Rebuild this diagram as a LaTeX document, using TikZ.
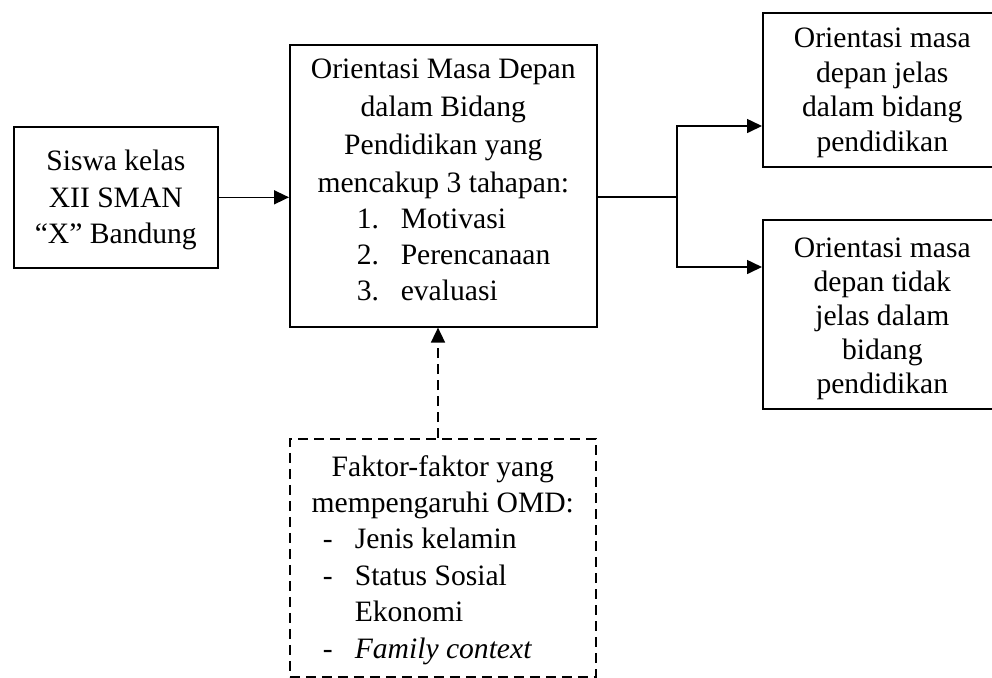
\documentclass[tikz,border=0pt]{standalone}
\usepackage{fontspec}
\setmainfont{Liberation Serif}
\usetikzlibrary{arrows.meta}
\begin{document}
\begin{tikzpicture}[x=0.5pt,y=-0.5pt,
  box/.style={draw, line width=0.8pt, inner sep=0pt, anchor=north west},
  dbox/.style={box, dash pattern=on 5pt off 3pt},
  txt/.style={inner sep=0pt, align=center},
  arr/.style={line width=0.8pt, -{Triangle[length=7.5pt,width=7pt]}},
  ]
\useasboundingbox (0,0) rectangle (992,677);
\clip (0,0) rectangle (992,677);
% boxes
\node[box, minimum width=102pt, minimum height=70.5pt] (siswa) at (13,126) {};
\node[box, minimum width=153.5pt, minimum height=141pt] (omd) at (289,44) {};
\node[box, minimum width=119.5pt, minimum height=77pt] (tr) at (762,12) {};
\node[box, minimum width=119.5pt, minimum height=94.5pt] (br) at (762,219) {};
\node[dbox, minimum width=153pt, minimum height=119pt] (fak) at (289,438) {};
% texts
\node[txt, font=\fontsize{14.8}{18.25}\selectfont] (siswaT) at ([yshift=-1.5pt]siswa.center)
  {Siswa kelas\\XII SMAN\\“X” Bandung};
\node[txt, font=\fontsize{14.8}{18}\selectfont] (omdT) at ([yshift=3.1pt]omd.center)
  {Orientasi Masa Depan\\[1pt]dalam Bidang\\[1pt]Pendidikan yang\\[1pt]mencakup 3 tahapan:\\
   \makebox[86.5pt][l]{\makebox[22pt][l]{1.}Motivasi}\\
   \makebox[86.5pt][l]{\makebox[22pt][l]{2.}Perencanaan}\\
   \makebox[86.5pt][l]{\makebox[22pt][l]{3.}evaluasi}};
\node[txt, font=\fontsize{14.8}{17.25}\selectfont] (trT) at ([yshift=-1.5pt]tr.center)
  {Orientasi masa\\depan jelas\\dalam bidang\\pendidikan};
\node[txt, font=\fontsize{14.8}{17}\selectfont] (brT) at ([yshift=-2.25pt]br.center)
  {Orientasi masa\\depan tidak\\jelas dalam\\bidang\\pendidikan};
\node[txt, font=\fontsize{14.8}{18.2}\selectfont] (fakT) at ([yshift=-1pt]fak.center)
  {Faktor-faktor yang\\mempengaruhi OMD:\\
   \makebox[120pt][l]{\makebox[16pt][l]{-}Jenis kelamin}\\
   \makebox[120pt][l]{\makebox[16pt][l]{-}Status Sosial}\\
   \makebox[120pt][l]{\hspace{16pt}Ekonomi}\\
   \makebox[120pt][l]{\makebox[16pt][l]{-}\textit{Family context}}};
% connectors
\draw[arr] (siswa.east) -- (siswa.east -| omd.west);
\coordinate (split) at (677,197);
\coordinate (ya) at (0,126);
\coordinate (yb) at (0,267);
\draw[line width=0.8pt] (split -| omd.east) -- (split);
\draw[arr] (split) |- (ya -| tr.west);
\draw[arr] (split) |- (yb -| br.west);
\coordinate (da) at (438,438);
\draw[arr, dash pattern=on 5pt off 3pt] (da |- fak.north) -- (da |- omd.south);
\end{tikzpicture}
\end{document}
